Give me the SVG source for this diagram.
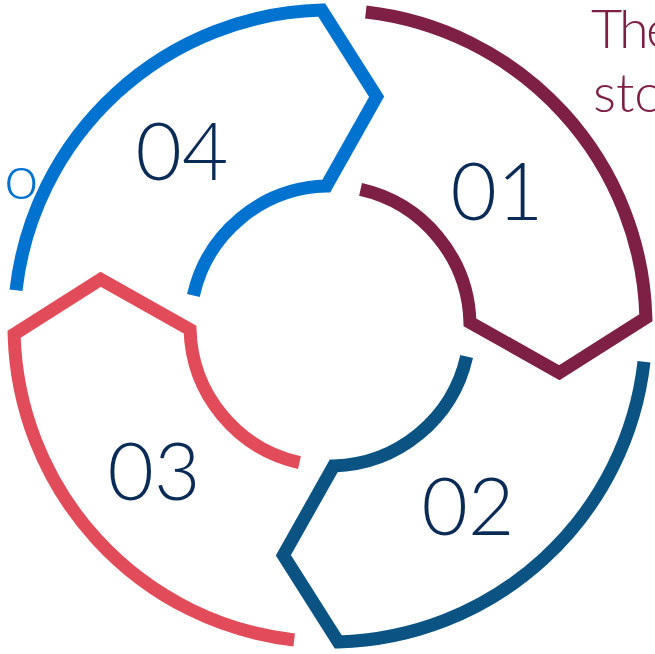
<svg xmlns="http://www.w3.org/2000/svg" width="655" height="654" viewBox="0 0 655 654">
  <style>
    .seg { fill: none; stroke-width: 13; stroke-linejoin: miter; stroke-miterlimit: 10; stroke-linecap: butt; }
    .num { font-family: Lato, "Open Sans", "Liberation Sans", sans-serif; font-weight: 300; font-size: 80px; fill: #0b2b57; text-anchor: middle; }
    .note { font-family: Lato, "Open Sans", "Liberation Sans", sans-serif; font-weight: 300; font-size: 54px; }
    .note.big { font-size: 62px; }
  </style>
  <defs>
    <!-- one ring segment: outer arc, arrow point, inner arc (centred on origin) -->
    <path id="segment" d="M 35.8,-314.0 A 316 316 0 0 1 315.9,-8.27 L 229.3,46.65 L 139.95,-3.67 A 140 140 0 0 0 30.54,-136.63"/>
  </defs>

  <g id="connectors"></g>

  <g id="step-01">
    <use href="#segment" class="seg" stroke="#7e2046" transform="translate(330,326)"/>
    <text class="num" x="497" y="220">01</text>
  </g>
  <g id="step-02">
    <use href="#segment" class="seg" stroke="#0a5382" transform="translate(330,326) rotate(90)"/>
    <text class="num" x="468" y="535">02</text>
  </g>
  <g id="step-03">
    <use href="#segment" class="seg" stroke="#e24b59" transform="translate(330,326) rotate(180)"/>
    <text class="num" x="154" y="500">03</text>
  </g>
  <g id="step-04">
    <use href="#segment" class="seg" stroke="#0073d1" transform="translate(330,326) rotate(270)"/>
    <text class="num" x="182" y="180">04</text>
  </g>

  <g id="captions">
    <text class="note" fill="#7e2046" x="591 619 646" y="48">The</text>
    <text class="note" fill="#7e2046" x="593" y="112">sto</text>
    <text class="note big" fill="#0073d1" x="4" y="199">o</text>
  </g>
</svg>
